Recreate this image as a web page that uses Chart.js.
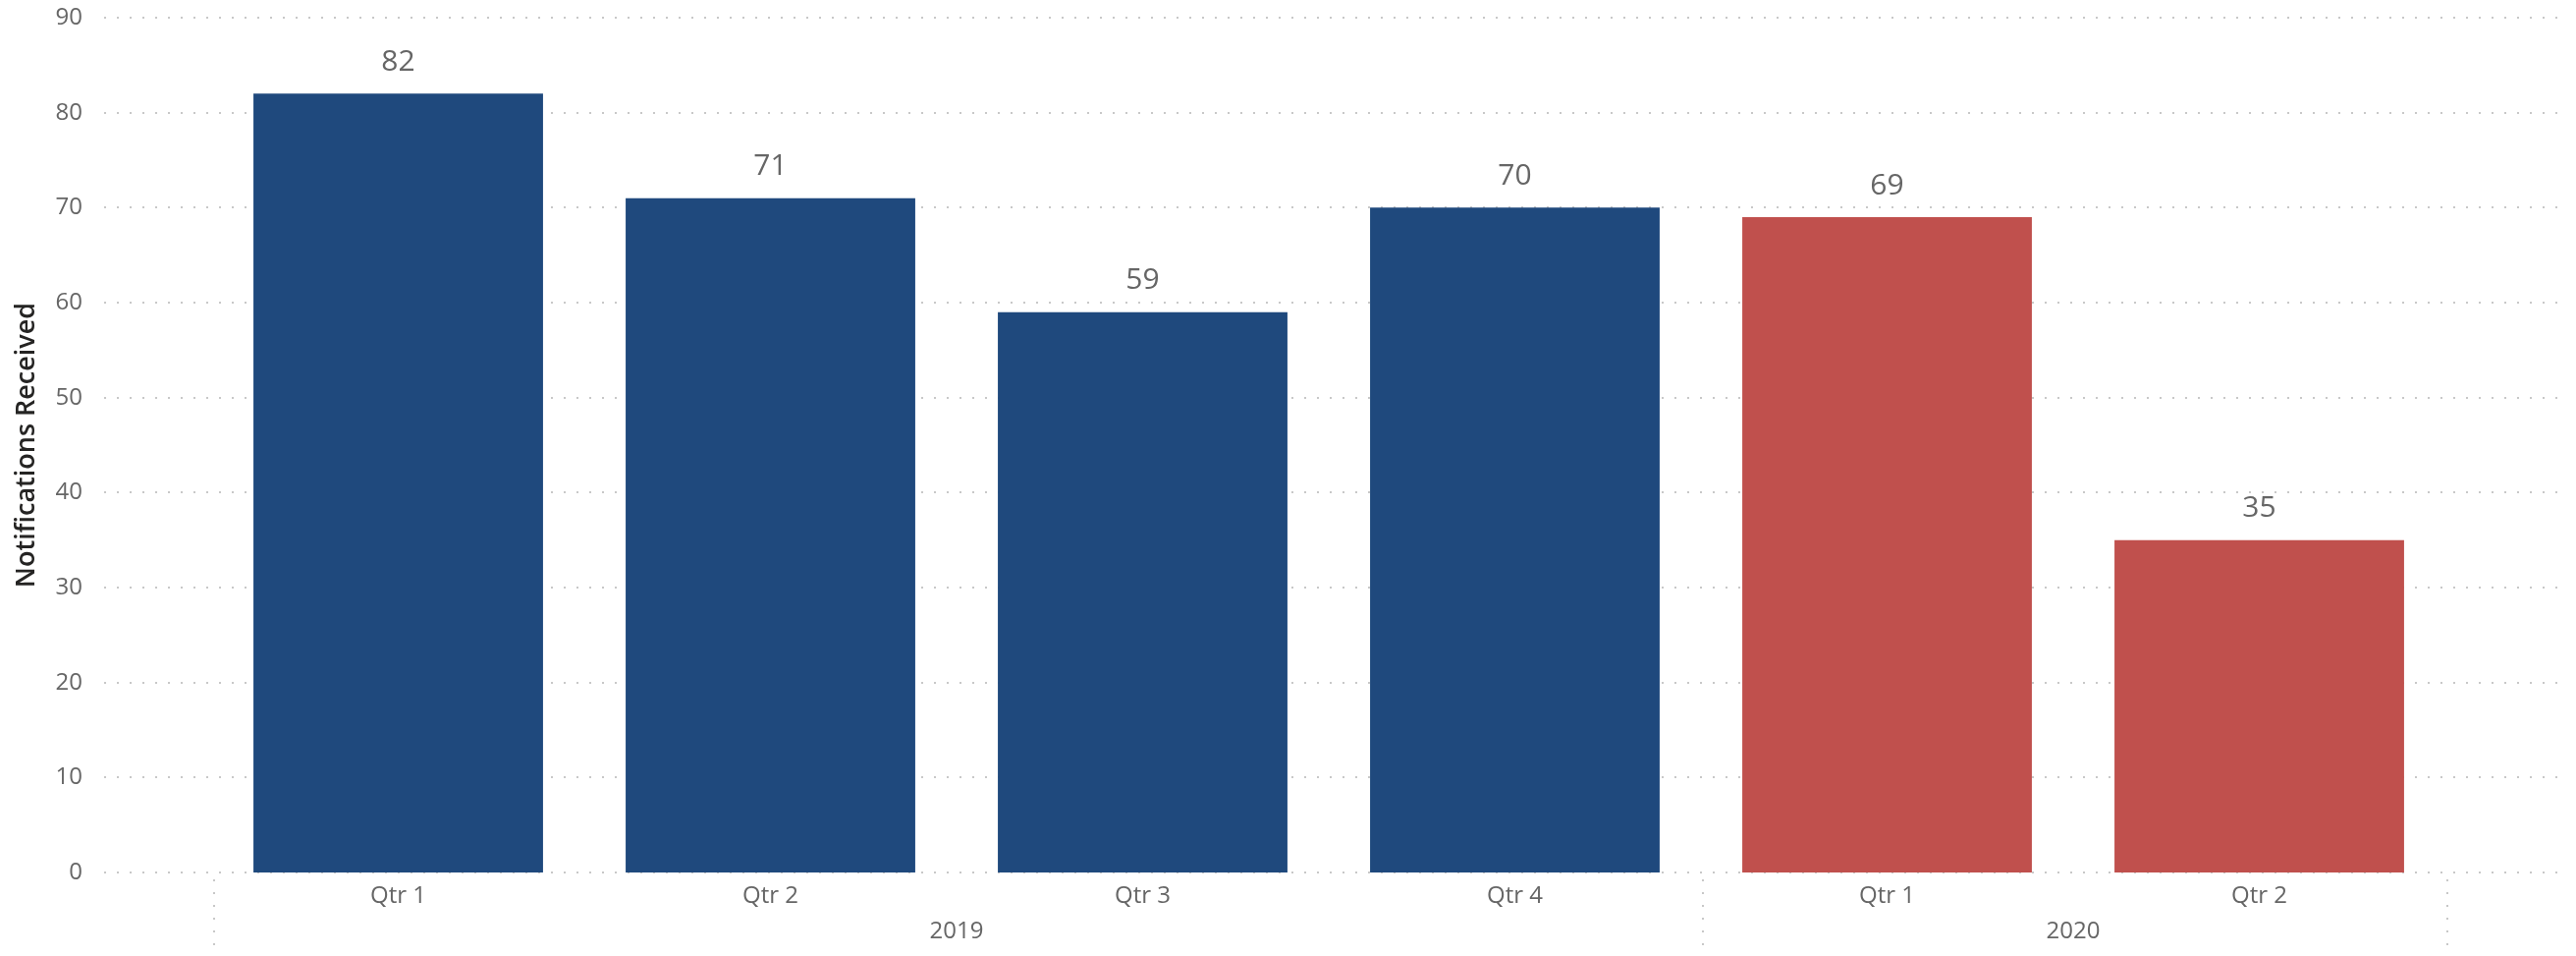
<!DOCTYPE html>
<html>
<head>
<meta charset="utf-8">
<script src="https://cdn.jsdelivr.net/npm/chart.js@4"></script>
<style>
  html, body { margin: 0; padding: 0; background: #fff; }
  #wrap { width: 2623px; height: 973px; position: relative; }
</style>
</head>
<body>
<div id="wrap"><canvas id="chart"></canvas></div>
<script>
// data
const quarters = ['Qtr 1', 'Qtr 2', 'Qtr 3', 'Qtr 4', 'Qtr 1', 'Qtr 2'];
const years = ['2019', '2019', '2019', '2019', '2020', '2020'];
const notifications = [82, 71, 59, 70, 69, 35];
const yTicks = [0, 10, 20, 30, 40, 50, 60, 70, 80, 90];

const yearColors = { '2019': '#1F497D', '2020': '#C0504D' };
const FONT = "'Open Sans', 'Noto Sans', sans-serif";
const GREY = '#666666';

// dotted grid lines across the full width (wider than the bar area)
const gridPlugin = {
  id: 'wideGrid',
  beforeDatasetsDraw(chart) {
    const { ctx } = chart;
    const y = chart.scales.y;
    ctx.save();
    ctx.strokeStyle = '#C8C8C8';
    ctx.lineWidth = 2;
    ctx.setLineDash([2, 11]);
    yTicks.forEach(v => {
      const py = Math.round(y.getPixelForValue(v));
      ctx.beginPath();
      ctx.moveTo(106, py);
      ctx.lineTo(2612, py);
      ctx.stroke();
    });
    ctx.restore();
  }
};

// year row under the quarter labels, with dotted separators
const yearPlugin = {
  id: 'yearRow',
  afterDraw(chart) {
    const { ctx } = chart;
    const x = chart.scales.x;
    const half = (x.getPixelForValue(1) - x.getPixelForValue(0)) / 2;
    const groups = [];
    years.forEach((yr, i) => {
      const g = groups[groups.length - 1];
      if (g && g.year === yr) g.end = i;
      else groups.push({ year: yr, start: i, end: i });
    });
    const top = chart.chartArea.bottom + 7;
    ctx.save();
    ctx.strokeStyle = '#C8C8C8';
    ctx.lineWidth = 2;
    ctx.setLineDash([2, 11]);
    const edges = [x.getPixelForValue(0) - half];
    groups.forEach(g => edges.push(x.getPixelForValue(g.end) + half));
    edges.forEach(px => {
      ctx.beginPath();
      ctx.moveTo(Math.round(px) + 2, top);
      ctx.lineTo(Math.round(px) + 2, chart.height);
      ctx.stroke();
    });
    ctx.setLineDash([]);
    ctx.fillStyle = GREY;
    ctx.font = '24px ' + FONT;
    ctx.textAlign = 'center';
    ctx.textBaseline = 'middle';
    groups.forEach(g => {
      const cx = (x.getPixelForValue(g.start) - half + x.getPixelForValue(g.end) + half) / 2;
      ctx.fillText(g.year, cx, chart.chartArea.bottom + 60);
    });
    ctx.restore();
  }
};

// value labels above bars
const valuePlugin = {
  id: 'valueLabels',
  afterDatasetsDraw(chart) {
    const { ctx } = chart;
    const meta = chart.getDatasetMeta(0);
    ctx.save();
    ctx.fillStyle = GREY;
    ctx.font = '30px ' + FONT;
    ctx.textAlign = 'center';
    ctx.textBaseline = 'middle';
    meta.data.forEach((bar, i) => {
      ctx.fillText(String(notifications[i]), bar.x, bar.y - 32);
    });
    ctx.restore();
  }
};

new Chart(document.getElementById('chart'), {
  type: 'bar',
  data: {
    labels: quarters,
    datasets: [{
      label: 'Notifications Received',
      data: notifications,
      backgroundColor: years.map(y => yearColors[y]),
      borderWidth: 0,
      categoryPercentage: 1,
      barPercentage: 0.778
    }]
  },
  options: {
    responsive: true,
    maintainAspectRatio: false,
    animation: false,
    layout: { padding: { top: 18, right: 133, bottom: 0, left: 0 } },
    plugins: {
      legend: { display: false },
      tooltip: { enabled: false }
    },
    scales: {
      x: {
        grid: { display: false, drawTicks: false },
        border: { display: false },
        ticks: { color: GREY, font: { family: FONT, size: 24 }, padding: 10, maxRotation: 0 },
        afterFit: s => { s.height = 85; }
      },
      y: {
        min: 0,
        max: 90,
        afterBuildTicks: s => { s.ticks = yTicks.map(v => ({ value: v })); },
        // tick marks are not drawn; their length just pushes the labels left
        grid: { display: false, drawTicks: true, tickLength: 132 },
        border: { display: false },
        ticks: { color: GREY, font: { family: FONT, size: 24 }, padding: 0 },
        title: {
          display: true,
          text: 'Notifications Received',
          color: '#252423',
          font: { family: FONT, size: 27, weight: '600' },
          padding: { top: 11, bottom: 0 }
        },
        afterFit: s => { s.width = 216; }
      }
    }
  },
  plugins: [gridPlugin, valuePlugin, yearPlugin]
});
</script>
</body>
</html>
